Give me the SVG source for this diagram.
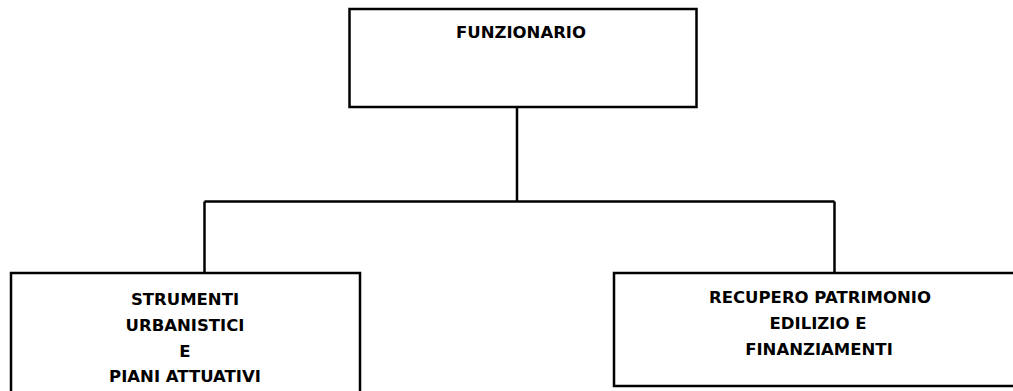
<svg xmlns="http://www.w3.org/2000/svg" width="1013" height="391" viewBox="0 0 1013 391">
<style>
.box{fill:#fff;stroke:#000;stroke-width:2.5}
.conn{fill:none;stroke:#000;stroke-width:2.5}
.lbl{font-family:"DejaVu Sans",Verdana,sans-serif;font-weight:bold;font-size:16.5px;fill:#000;text-anchor:middle}
</style>
<rect width="1013" height="391" fill="#fff"/>
<g id="connectors">
<line class="conn" x1="517" y1="107" x2="517" y2="201.5"/>
<line class="conn" x1="204.5" y1="201.5" x2="834.5" y2="201.5"/>
<line class="conn" x1="204.5" y1="201.5" x2="204.5" y2="273"/>
<line class="conn" x1="834.5" y1="201.5" x2="834.5" y2="273"/>
</g>
<g id="node-funzionario">
<rect class="box" x="349.5" y="9" width="347" height="98"/>
<text class="lbl" x="521" y="38">FUNZIONARIO</text>
</g>
<g id="node-strumenti">
<rect class="box" x="11" y="273" width="349" height="130"/>
<text class="lbl" x="185" y="305">STRUMENTI</text>
<text class="lbl" x="185" y="331">URBANISTICI</text>
<text class="lbl" x="185" y="356.5">E</text>
<text class="lbl" x="185" y="381.5">PIANI ATTUATIVI</text>
</g>
<g id="node-recupero">
<rect class="box" x="614" y="273" width="410" height="113"/>
<text class="lbl" x="820" y="303">RECUPERO PATRIMONIO</text>
<text class="lbl" x="818" y="329">EDILIZIO E</text>
<text class="lbl" x="819" y="355">FINANZIAMENTI</text>
</g>
</svg>
